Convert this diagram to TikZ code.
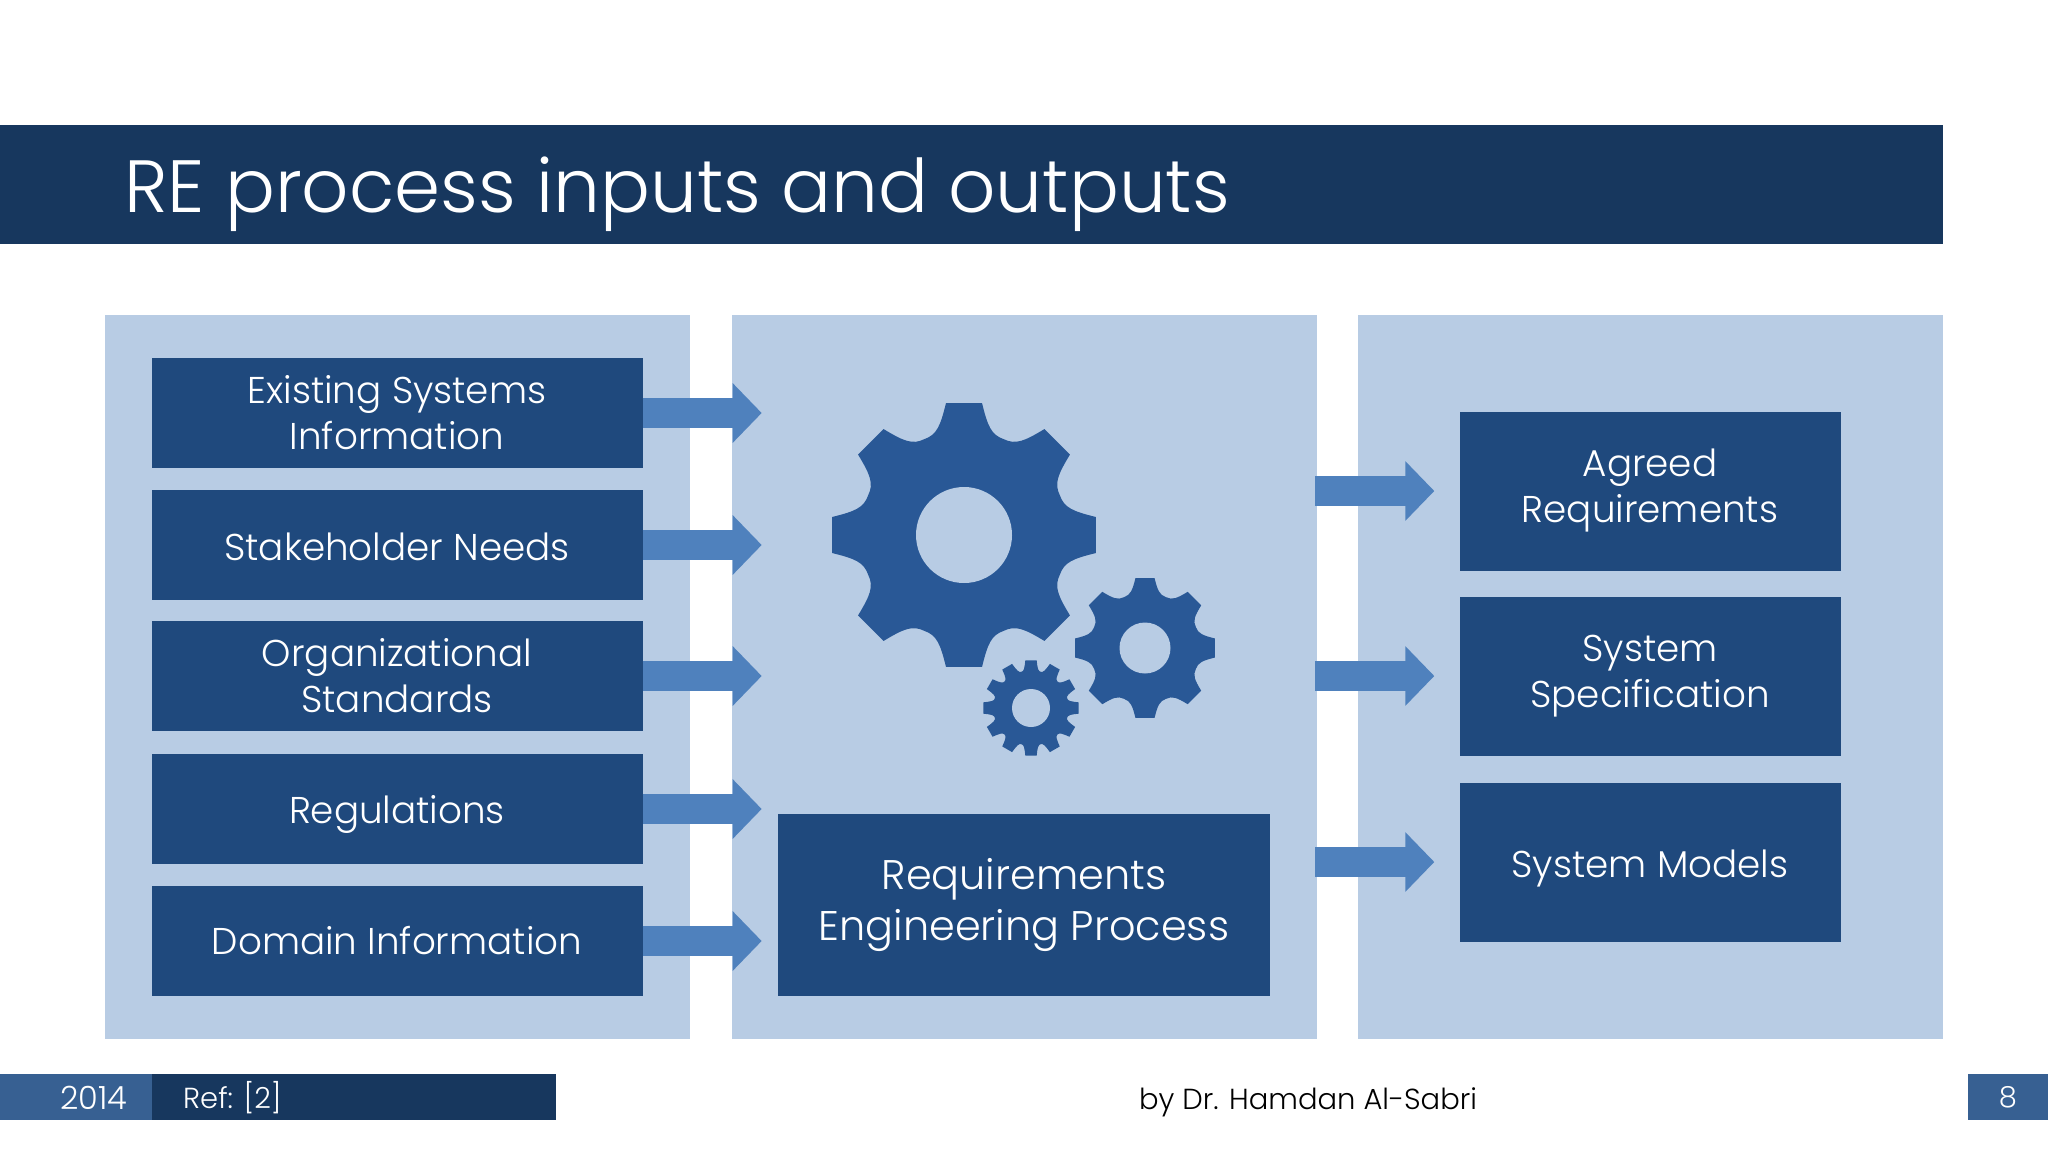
\documentclass[tikz,border=0pt]{standalone}
\usepackage{fontspec}
\setmainfont{Poppins Light}
\usetikzlibrary{arrows.meta}
\definecolor{titleblue}{HTML}{17375E}
\definecolor{panelblue}{HTML}{B8CCE4}
\definecolor{boxblue}{HTML}{1F497D}
\definecolor{arrowblue}{HTML}{4F81BD}
\definecolor{gearblue}{HTML}{295896}
\definecolor{yearblue}{HTML}{376092}
\tikzset{
  panel/.style = {fill = panelblue, inner sep = 0pt, minimum width = 585pt, minimum height = 724pt},
  inbox/.style = {fill = boxblue, text = white, align = center, inner sep = 0pt,
    minimum width = 491pt, minimum height = 110pt, font = \fontsize{37.3}{46}\selectfont},
  outbox/.style = {inbox, minimum width = 381pt, minimum height = 159pt,
    lowered = 41pt},
  lowered/.style = {execute at begin node = {\rule{0pt}{#1}}},
  bigarrow/.style = {draw = arrowblue, line width = 30pt,
    -{Triangle[length = 29pt, width = 58pt]}},
  footbar/.style = {inner sep = 0pt, minimum height = 46pt, text = white,
    font = \fontsize{29}{34}\selectfont},
}
% x y outer-radius teeth hole-radius tooth-half-angle
\newcommand{\gearat}[6]{
  \pgfmathsetmacro{\gearhalf}{180/#4}
  \pgfmathsetmacro{\gearb}{#6+.3*(\gearhalf-#6)}
  \pgfmathsetmacro{\gearc}{#6+.5*(\gearhalf-#6)}
  \begin{scope}[shift = {(#1,#2)}]
    \fill [gearblue] ({-#6}:#3)
      \foreach \i [evaluate = \i as \a using (\i-1)*2*\gearhalf] in {1,...,#4} {
        -- ({\a+#6}:#3)
        .. controls ({\a+\gearb}:{.84*#3}) and ({\a+\gearc}:{.78*#3}) .. ({\a+\gearhalf}:{.78*#3})
        .. controls ({\a+2*\gearhalf-\gearc}:{.78*#3}) and ({\a+2*\gearhalf-\gearb}:{.84*#3})
        .. ({\a+2*\gearhalf-#6}:#3)
      } -- cycle;
    \fill [panelblue] (0,0) circle (#5);
  \end{scope}
}
\begin{document}
\begin{tikzpicture}[x = 1pt, y = -1pt]
  \useasboundingbox (0,0) rectangle (2048,1152);
  % title
  \fill [titleblue] (0,125) rectangle (1943,244);
  \node [anchor = west, inner sep = 0pt, text = white, font = \fontsize{74}{80}\selectfont]
    (title) at (124,194) {RE process inputs and outputs};
  % panels
  \node [panel] (leftpanel) at (397.5,677) {};
  \node [panel] (midpanel) at (1024,677) {};
  \node [panel] (rightpanel) at (1650.5,677) {};
  % inputs
  \node [inbox] (existing) at (397,413) {Existing Systems\\Information};
  \node [inbox, lowered = 31pt] (needs) at (397,545) {Stakeholder Needs};
  \node [inbox, lowered = 31pt] (standards) at (397,676) {Organizational\\Standards};
  \node [inbox, lowered = 38pt] (regulations) at (397,809) {Regulations};
  \node [inbox] (domain) at (397,941) {Domain Information};
  % process
  \node [inbox, minimum width = 492pt, minimum height = 182pt, lowered = 43pt,
    font = \fontsize{41.4}{51}\selectfont]
    (process) at (1024,905) {Requirements\\Engineering Process};
  % outputs
  \node [outbox] (agreed) at (1650,491) {Agreed\\Requirements};
  \node [outbox] (spec) at (1650,676) {System\\Specification};
  \node [outbox] (models) at (1650,862) {System Models};
  % arrows
  \foreach \from in {existing, needs, standards, regulations, domain} {
    \coordinate (tip\from) at ([xshift = 119pt]\from.east);
    \draw [bigarrow] (\from.east) -- (tip\from);
  }
  \foreach \to in {agreed, spec, models} {
    \coordinate (start\to) at ([xshift = -144pt]\to.west);
    \coordinate (tip\to) at ([xshift = -25pt]\to.west);
    \draw [bigarrow] (start\to) -- (tip\to);
  }
  % gears
  \gearat{964}{535}{133}{8}{48}{7.8}
  \gearat{1145}{648}{70.5}{8}{25.5}{7.8}
  \gearat{1031}{708}{48}{12}{19}{6.8}
  % footer
  \node [footbar, fill = yearblue, minimum width = 152pt] (year) at (76,1097) {};
  \node [footbar, fill = titleblue, minimum width = 404pt, anchor = west] (ref) at (year.east) {};
  \node [footbar, font = \fontsize{32}{34}\selectfont] (yeartext) at (94,1098) {2014};
  \node [footbar, anchor = west] (reftext) at (183,1098) {Ref: [2]};
  \node [footbar, fill = yearblue, minimum width = 80pt] (page) at (2008,1097) {8};
  \node [inner sep = 0pt, text = black, font = \fontsize{29}{34}\selectfont]
    (author) at (1308,1102) {by Dr. Hamdan Al-Sabri};
\end{tikzpicture}
\end{document}
